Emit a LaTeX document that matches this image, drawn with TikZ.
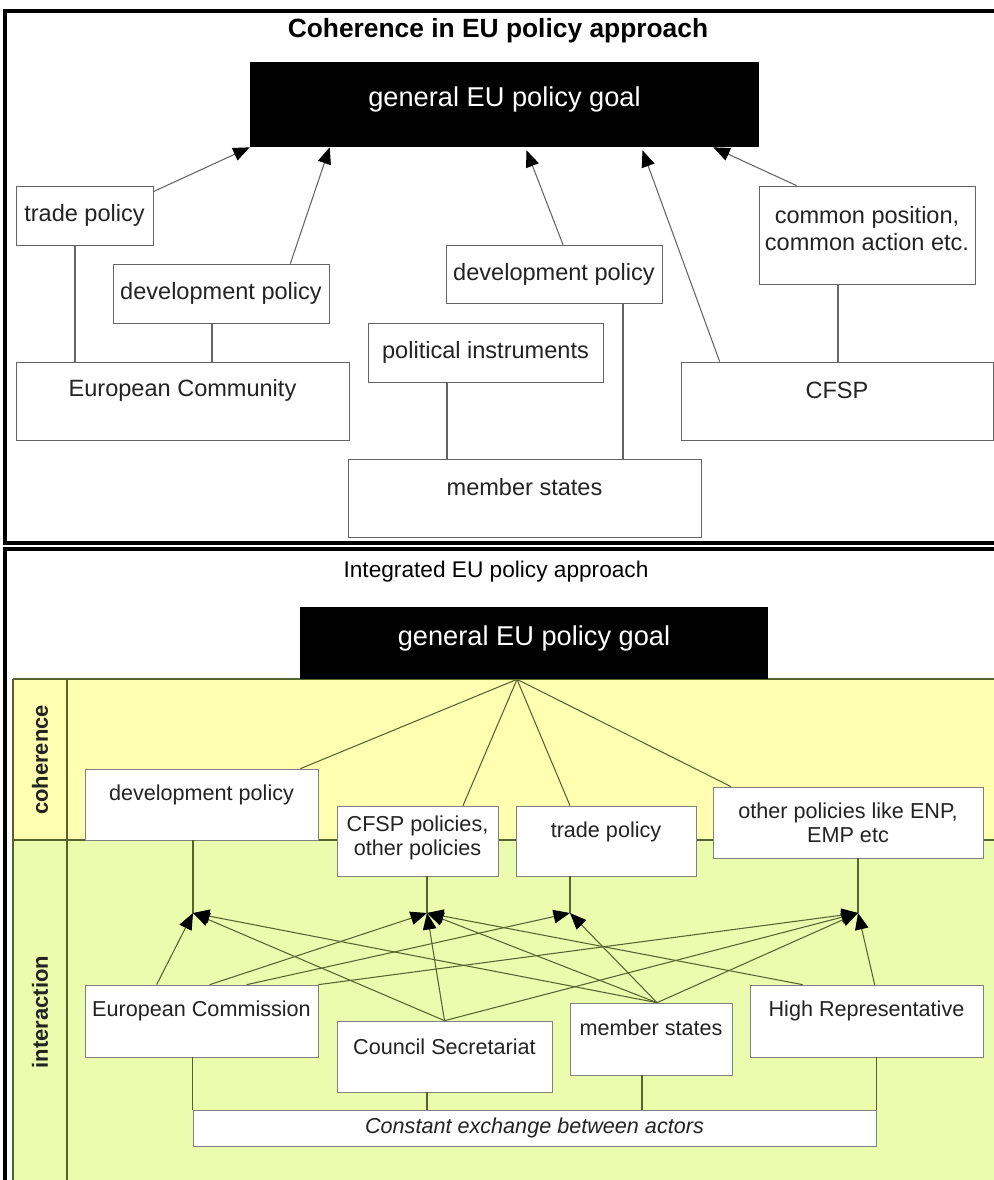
\documentclass[tikz,border=0pt]{standalone}
\usepackage{fontspec}
\setmainfont{Liberation Sans}
\usetikzlibrary{calc, arrows.meta}

\definecolor{laneyellow}{RGB}{255,255,178}
\definecolor{lanegreen}{RGB}{236,252,174}
\definecolor{laneline}{RGB}{85,100,45}
\definecolor{boxline}{RGB}{100,100,100}
\definecolor{textgray}{RGB}{35,35,35}

\begin{document}
\begin{tikzpicture}[
            x=0.02cm, y=-0.02cm,
            >={Triangle[length=3.3mm, width=2.7mm, color=black]},
            base/.style = {rectangle, draw=boxline, fill=white, text=textgray, align=center, inner sep=0pt},
            topbox/.style = {base, font=\fontsize{13.4}{15.5}\selectfont},
            lanebox/.style = {base, draw=gray, font=\fontsize{12.3}{13.8}\selectfont},
            goal/.style = {rectangle, fill=black, text=white, inner sep=0pt, font=\fontsize{15.5}{18}\selectfont},
            lifted/.style = {text depth=#1},
            link/.style = {draw=boxline, line width=0.6pt},
            lanelink/.style = {draw=laneline, line width=0.6pt},
            frame/.style = {line width=1.8pt},
            lanelabel/.style = {rotate=90, text=textgray, font=\bfseries\fontsize{12.5}{14}\selectfont}
        ]

            \useasboundingbox (0,0) rectangle (994,1180);
            \clip (0,0) rectangle (994,1180);
            \fill[white] (0,0) rectangle (994,1180);

            % --- 1. Coherence panel ---
            \draw[frame] (1010,11) -| (5,543) -- (1010,543);
            \node [font=\bfseries\fontsize{15}{18}\selectfont] (title1) at (498,31) {Coherence in EU policy approach};
            \node [goal, minimum width=10.18cm, minimum height=1.7cm, lifted=0.3cm] (goal1) at (504.5,104.5) {general EU policy goal};

            \node [topbox, minimum width=2.74cm, minimum height=1.18cm] (trade1) at (84.5,215.5) {trade policy};
            \node [topbox, minimum width=4.32cm, minimum height=1.18cm] (devp1) at (221,293.5) {development policy};
            \node [topbox, minimum width=6.66cm, minimum height=1.56cm, lifted=0.54cm] (ec1) at (182.5,401) {European Community};
            \node [topbox, minimum width=4.32cm, minimum height=1.16cm] (devp2) at (554,274) {development policy};
            \node [topbox, minimum width=4.7cm, minimum height=1.18cm] (instr) at (485.5,352.5) {political instruments};
            \node [topbox, minimum width=7.06cm, minimum height=1.56cm, lifted=0.44cm] (ms1) at (524.5,498) {member states};
            \node [topbox, minimum width=4.32cm, minimum height=1.96cm, lifted=0.26cm] (cpos) at (867,235) {common position,\\common action etc.};
            \node [topbox, minimum width=6.24cm, minimum height=1.56cm, lifted=0.44cm] (cfsp1) at (837,401) {CFSP};

            % policies up to the goal
            \draw [link, ->] ($(trade1.north east)+(0,6)$) -- (goal1.south west);
            \draw [link, ->] ($(devp1.north east)+(-39,0)$) -- ($(goal1.south west)+(80,0)$);
            \draw [link, ->] ($(devp2.north)+(9,0)$) -- ($(goal1.south)+(22,3)$);
            \draw [link, ->] ($(cfsp1.north west)+(39,0)$) -- ($(goal1.south)+(138,3)$);
            \draw [link, ->] ($(cpos.north west)+(38,0)$) -- ($(goal1.south east)+(-46,0)$);

            % actors to their policies
            \draw [link] (trade1.south -| 75,0) -- (ec1.north -| 75,0);
            \draw [link] (devp1.south -| 212,0) -- (ec1.north -| 212,0);
            \draw [link] (instr.south -| 447,0) -- (ms1.north -| 447,0);
            \draw [link] (devp2.south -| 623,0) -- (ms1.north -| 623,0);
            \draw [link] (cpos.south -| 838,0) -- (cfsp1.north -| 838,0);

            % --- 2. Integrated panel ---
            \draw[frame] (1010,549) -| (5,1190);
            \node [font=\fontsize{12.9}{16}\selectfont] (title2) at (496,572) {Integrated EU policy approach};

            % swim lanes
            \fill[laneyellow] (13,679) rectangle (1000,840);
            \fill[lanegreen] (13,840) rectangle (1000,1190);
            \draw[lanelink] (13,679) -- (1000,679);
            \draw[lanelink] (13,840) -- (1000,840);
            \draw[lanelink] (13,679) -- (13,1190);
            \draw[lanelink] (67,679) -- (67,1190);
            \node [lanelabel] (lcoh) at (40,760) {coherence};
            \node [lanelabel] (lint) at (40,1012) {interaction};

            \node [goal, minimum width=9.36cm, minimum height=1.44cm, lifted=0.3cm] (goal2) at (534,643) {general EU policy goal};

            \node [lanebox, minimum width=4.66cm, minimum height=1.42cm, lifted=0.48cm] (devp3) at (201.5,804.5) {development policy};
            \node [lanebox, minimum width=3.22cm, minimum height=1.4cm, lifted=0.22cm] (cfsppol) at (417.5,841) {CFSP policies,\\other policies};
            \node [lanebox, minimum width=3.6cm, minimum height=1.4cm, lifted=0.46cm] (trade2) at (606,841) {trade policy};
            \node [lanebox, minimum width=5.4cm, minimum height=1.42cm] (othpol) at (848,822.5) {other policies like ENP,\\EMP etc};

            \node [lanebox, minimum width=4.66cm, minimum height=1.44cm, lifted=0.5cm] (ec2) at (201.5,1021) {European Commission};
            \node [lanebox, minimum width=4.3cm, minimum height=1.42cm, lifted=0.38cm] (cs) at (444.5,1056.5) {Council Secretariat};
            \node [lanebox, minimum width=3.24cm, minimum height=1.44cm, lifted=0.44cm] (ms2) at (651,1039) {member states};
            \node [lanebox, minimum width=4.66cm, minimum height=1.44cm, lifted=0.5cm] (hr) at (866.5,1021) {High Representative};
            \node [lanebox, minimum width=13.66cm, minimum height=0.72cm, font=\itshape\fontsize{12.3}{14}\selectfont] (bar) at (534.5,1128) {Constant exchange between actors};

            % meeting points under the policies
            \coordinate (h1) at (193,913);
            \coordinate (h2) at (427,913);
            \coordinate (h3) at (570,913);
            \coordinate (h4) at (858,913);

            % coherence: goal down to the policies
            \draw [lanelink] (goal2.south -| 517,0) -- ($(devp3.north east)+(-18,0)$);
            \draw [lanelink] (goal2.south -| 517,0) -- (cfsppol.north -| 463,0);
            \draw [lanelink] (goal2.south -| 517,0) -- (trade2.north -| h3);
            \draw [lanelink] (goal2.south -| 517,0) -- (othpol.north -| 731,0);

            \draw [lanelink] (devp3.south -| h1) -- (h1);
            \draw [lanelink] (cfsppol.south -| h2) -- (h2);
            \draw [lanelink] (trade2.south -| h3) -- (h3);
            \draw [lanelink] (othpol.south -| h4) -- (h4);

            % interaction: actors up to the policies
            \draw [lanelink, ->] ($(ec2.north west)+(72,0)$) -- (h1);
            \draw [lanelink, ->] ($(ec2.north west)+(125,0)$) -- (h2);
            \draw [lanelink, ->] ($(ec2.north west)+(162,0)$) -- (h3);
            \draw [lanelink, ->] (ec2.north east) -- (h4);

            \draw [lanelink, ->] (cs.north) -- (h1);
            \draw [lanelink, ->] (cs.north) -- (h2);
            \draw [lanelink, ->] (cs.north) -- (h4);

            \draw [lanelink, ->] ($(ms2.north)+(6,0)$) -- (h1);
            \draw [lanelink, ->] ($(ms2.north)+(6,0)$) -- (h2);
            \draw [lanelink, ->] ($(ms2.north)+(6,0)$) -- (h3);
            \draw [lanelink, ->] ($(ms2.north)+(6,0)$) -- (h4);

            \draw [lanelink, ->] ($(hr.north west)+(53,0)$) -- (h2);
            \draw [lanelink, ->] ($(hr.north west)+(125,0)$) -- (h4);

            % constant exchange
            \draw [lanelink] (ec2.south -| bar.north west) -- (bar.north west);
            \draw [lanelink] (cs.south -| 427,0) -- (bar.north -| 427,0);
            \draw [lanelink] (ms2.south -| 642,0) -- (bar.north -| 642,0);
            \draw [lanelink] (hr.south -| bar.north east) -- (bar.north east);

        \end{tikzpicture}
\end{document}
